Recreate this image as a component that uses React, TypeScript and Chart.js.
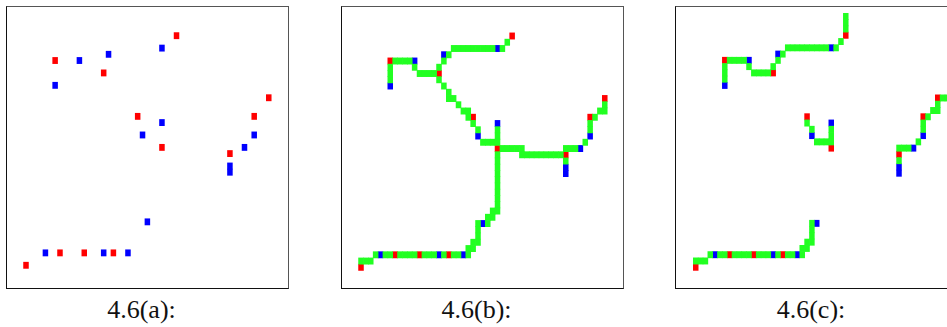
import React, { useEffect, useRef } from "react";
import { Chart, registerables } from "chart.js";

Chart.register(...registerables);

// Grid cells given as [column, row]
const redCells: [number, number][] = [
  [10, 8], [20, 10], [35, 4], [27, 17], [32, 22], [46, 23], [51, 17], [54, 14],
  [4, 41], [11, 39], [16, 39], [22, 39],
];
const blueCells: [number, number][] = [
  [15, 8], [10, 12], [21, 7], [32, 6], [28, 20], [32, 18], [49, 22], [51, 20],
  [46, 25], [46, 26], [29, 34], [8, 39], [20, 39], [25, 39],
];

// Green path runs: [row, firstColumn, lastColumn]
const greenRunsA: [number, number, number][] = [];
const greenRunsB: [number, number, number][] = [
  [5, 34, 34], [6, 23, 31], [6, 33, 33], [7, 22, 22], [8, 11, 14], [8, 21, 21],
  [9, 10, 10], [9, 15, 15], [9, 20, 20], [10, 10, 10], [10, 16, 19], [11, 10, 10],
  [11, 20, 20], [12, 21, 21], [13, 22, 22], [14, 22, 23], [15, 24, 24], [15, 54, 54],
  [16, 25, 26], [16, 53, 54], [17, 26, 26], [17, 52, 52], [18, 27, 27], [18, 51, 51],
  [19, 28, 28], [19, 32, 32], [19, 51, 51], [20, 32, 32], [21, 29, 32], [21, 50, 50],
  [22, 33, 37], [22, 46, 48], [23, 32, 32], [23, 37, 45], [24, 32, 32], [24, 46, 46],
  [25, 32, 32], [26, 32, 32], [27, 32, 32], [28, 32, 32], [29, 32, 32], [30, 32, 32],
  [31, 32, 32], [32, 31, 32], [33, 30, 31], [34, 28, 28], [34, 30, 30], [35, 28, 28],
  [36, 28, 28], [37, 27, 28], [38, 26, 27],
  [39, 7, 7], [39, 9, 10], [39, 12, 15], [39, 17, 19], [39, 21, 21], [39, 23, 24],
  [39, 26, 26], [40, 4, 6],
];
const greenRunsC: [number, number, number][] = [
  [1, 35, 35], [2, 35, 35], [3, 35, 35], [5, 34, 34], [6, 23, 31], [6, 33, 33],
  [7, 22, 22], [8, 11, 14], [8, 21, 21], [9, 10, 10], [9, 15, 15], [9, 20, 20],
  [10, 10, 10], [10, 16, 19], [11, 10, 10],
  [14, 55, 57], [15, 54, 54], [16, 53, 54], [17, 52, 52], [18, 27, 27], [18, 51, 51],
  [19, 28, 28], [19, 32, 32], [19, 51, 51], [20, 32, 32], [21, 29, 32], [21, 50, 50],
  [22, 46, 48], [24, 46, 46],
  [34, 28, 28], [35, 28, 28], [36, 28, 28], [37, 27, 28], [38, 26, 27],
  [39, 7, 7], [39, 9, 10], [39, 12, 15], [39, 17, 19], [39, 21, 21], [39, 23, 24],
  [39, 26, 26], [40, 4, 6],
];

const captions = ["4.6(a):", "4.6(b):", "4.6(c):"];

const RED = "#ff0000";
const BLUE = "#0000ff";
const GREEN = "#22ff22";

type PanelSpec = {
  caption: string;
  green: [number, number, number][];
  left: number;
  xr: [number, number];
  yr: [number, number];
  capCenter: number;
};

const panels: PanelSpec[] = [
  { caption: captions[0], green: greenRunsA, left: 6, xr: [0.087, 57.96], yr: [-0.625, 44.66], capCenter: 141.5 },
  { caption: captions[1], green: greenRunsB, left: 341, xr: [0.1, 57.74], yr: [-0.64, 44.31], capCenter: 476.5 },
  { caption: captions[2], green: greenRunsC, left: 675, xr: [-0.08, 57.98], yr: [-0.51, 44.31], capCenter: 811 },
];

const INNER = 281;

function toBars(cells: [number, number][]) {
  return cells.map(([c, r]) => ({ x: c, y: [r - 0.5, r + 0.5] }));
}

function expandRuns(runs: [number, number, number][]): [number, number][] {
  const out: [number, number][] = [];
  runs.forEach(([r, a, b]) => {
    for (let c = a; c <= b; c++) out.push([c, r]);
  });
  return out;
}

function Panel({ spec }: { spec: PanelSpec }) {
  const ref = useRef<HTMLCanvasElement | null>(null);
  useEffect(() => {
    if (!ref.current) return;
    const chart = new Chart(ref.current, {
      type: "bar",
      data: {
        datasets: [
          { label: "path", data: toBars(expandRuns(spec.green)) as any, backgroundColor: GREEN },
          { label: "red", data: toBars(redCells) as any, backgroundColor: RED },
          { label: "blue", data: toBars(blueCells) as any, backgroundColor: BLUE },
        ],
      },
      options: {
        animation: false,
        responsive: false,
        maintainAspectRatio: false,
        events: [],
        layout: { padding: 0 },
        datasets: {
          bar: {
            grouped: false,
            barPercentage: 1,
            categoryPercentage: 1,
            borderWidth: 0,
          },
        },
        scales: {
          x: {
            type: "linear",
            min: spec.xr[0],
            max: spec.xr[1],
            offset: false,
            grid: { offset: false },
            display: false,
          },
          y: {
            type: "linear",
            min: spec.yr[0],
            max: spec.yr[1],
            reverse: true,
            offset: false,
            display: false,
          },
        },
        plugins: {
          legend: { display: false },
          tooltip: { enabled: false },
        },
      } as any,
    });
    return () => chart.destroy();
  }, [spec]);

  return (
    <>
      <div
        style={{
          position: "absolute",
          left: spec.left,
          top: 6,
          width: INNER,
          height: INNER,
          borderLeft: "1px solid #111",
          borderBottom: "1px solid #111",
          borderTop: "1px solid #555",
          borderRight: "1px solid #555",
          background: "#fff",
        }}
      >
        <canvas ref={ref} width={INNER} height={INNER} style={{ display: "block", width: INNER, height: INNER }} />
      </div>
      <div
        style={{
          position: "absolute",
          left: spec.capCenter - 100,
          width: 200,
          top: 297,
          textAlign: "center",
          fontFamily: "'Liberation Serif', 'DejaVu Serif', serif",
          fontSize: 26,
          lineHeight: "26px",
          color: "#111",
          whiteSpace: "nowrap",
        }}
      >
        {spec.caption}
      </div>
    </>
  );
}

export default function App() {
  return (
    <div
      style={{
        position: "absolute",
        left: 0,
        top: 0,
        width: 947,
        height: 327,
        overflow: "hidden",
        background: "#fff",
      }}
    >
      {panels.map((p) => (
        <Panel key={p.caption} spec={p} />
      ))}
    </div>
  );
}
